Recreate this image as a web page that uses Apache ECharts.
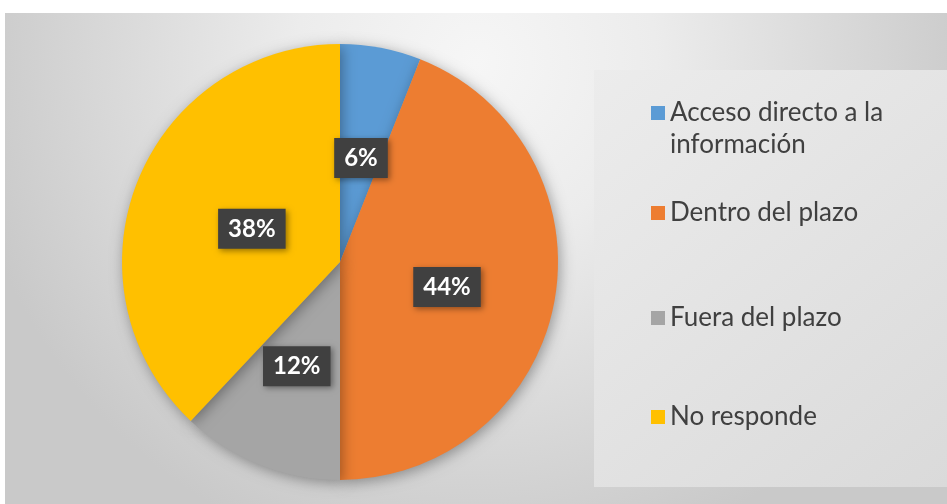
<!DOCTYPE html>
<html>
<head>
<meta charset="utf-8">
<script src="https://cdn.jsdelivr.net/npm/echarts@6/dist/echarts.min.js"></script>
<style>
  html, body { margin: 0; padding: 0; background: #fff; }
  #pie { width: 947px; height: 504px; }
</style>
</head>
<body>
<div id="pie"></div>
<script>
// categories and values
var categories = ["Acceso directo a la información", "Dentro del plazo", "Fuera del plazo", "No responde"];
// blank first line keeps the square next to the first text line
var legendText = [" \nAcceso directo a la\ninformación", "Dentro del plazo", "Fuera del plazo", "No responde"];
var values = [6, 44, 12, 38];
var colors = ["#5B9BD5", "#ED7D31", "#A5A5A5", "#FFC000"];
var legendTops = [65, 197, 302, 401];
var labelShift = [[0, 6], [-3, 4], [-2, 0], [16, 8]];

var font = "Lato, 'Open Sans', sans-serif";

var seriesData = categories.map(function (name, i) {
  return {
    name: name,
    value: values[i],
    itemStyle: { color: colors[i] },
    label: { offset: labelShift[i] }
  };
});

// one legend per item so each row sits where the original puts it
var legends = categories.map(function (name, i) {
  return {
    data: [name],
    left: 651,
    top: legendTops[i],
    padding: 0,
    icon: "rect",
    itemWidth: 14,
    itemHeight: 14,
    itemGap: 0,
    selectedMode: false,
    formatter: function () { return legendText[i]; },
    textStyle: {
      fontFamily: font,
      fontSize: 26,
      color: "#404040",
      lineHeight: 32
    }
  };
});

var myChart = echarts.init(document.getElementById("pie"));
myChart.setOption({
  animation: false,
  backgroundColor: "#ffffff",
  graphic: [
    {
      type: "rect",
      z: -10,
      shape: { x: 5, y: 13, width: 942, height: 491 },
      style: {
        fill: {
          type: "radial", x: 0.5, y: 0.1, r: 1.05,
          colorStops: [
            { offset: 0, color: "#f6f6f6" },
            { offset: 0.35, color: "#ececec" },
            { offset: 1, color: "#c9c9c9" }
          ]
        }
      }
    },
    {
      type: "rect",
      z: -9,
      shape: { x: 594, y: 70, width: 353, height: 417 },
      style: {
        fill: {
          type: "linear", x: 0, y: 0, x2: 1, y2: 1,
          colorStops: [
            { offset: 0, color: "#ececec" },
            { offset: 1, color: "#dadada" }
          ]
        }
      }
    }
  ],
  legend: legends,
  series: [
    {
      type: "pie",
      center: [340, 262],
      radius: [0, 218],
      startAngle: 90,
      clockwise: true,
      silent: true,
      data: seriesData,
      itemStyle: {
        shadowBlur: 14,
        shadowColor: "rgba(0,0,0,0.35)",
        shadowOffsetX: 2,
        shadowOffsetY: 3
      },
      label: {
        show: true,
        position: "inside",
        formatter: "{c}%",
        fontFamily: font,
        fontSize: 24,
        fontWeight: "bold",
        color: "#ffffff",
        backgroundColor: "#404040",
        padding: [9, 10, 7, 10],
        shadowBlur: 6,
        shadowColor: "rgba(0,0,0,0.4)",
        shadowOffsetX: 2,
        shadowOffsetY: 2
      },
      labelLine: { show: false }
    }
  ]
});

window.addEventListener("resize", function () {
  myChart.resize();
});
</script>
</body>
</html>
